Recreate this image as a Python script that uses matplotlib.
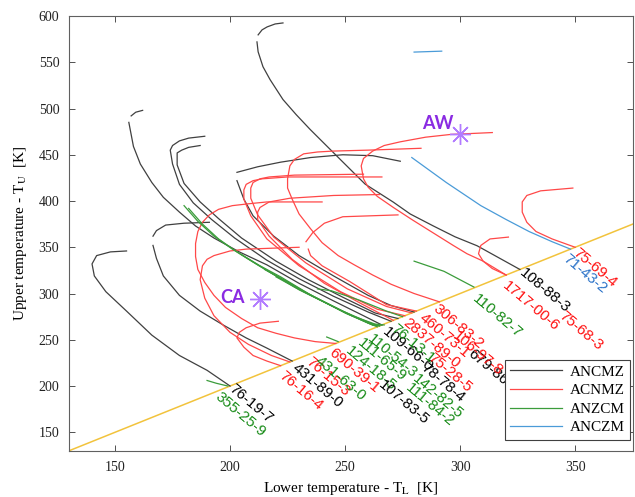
import numpy as np
import matplotlib
matplotlib.use('Agg')
import matplotlib.pyplot as plt

nan = np.nan

# ---------------------------------------------------------------------
# Curves: lower temperature T_L and upper T_U [K]
# (nan = gap in the line)
# ---------------------------------------------------------------------
# ANCMZ (black)
tl_76_19_7 = [200, 190, 178, 166, 155, 146, 141, 140, 142, 148, 155]
tu_76_19_7 = [200, 217, 233, 255, 281, 302, 319, 332, 341, 345, 346]
tl_431_89_0 = [227, 216, 207, 197, 187, 178, 171, 168, 166.5, nan, 166.5, 168, 172, 180, 191]
tu_431_89_0 = [227, 241, 252, 266, 281, 298, 319, 338, 352, nan, 362, 368, 374, 376, 377]
tl_108_88_3 = [326, 307.4, 297.8, 288.3, 278.3, 270.9, 258.7, 247.8, 241.3, 234.8, 228.7,
               223, 217.4, 214.3, 212.2, 211.7, nan, 212.2, 213.9, 216.1, 219.6, 223]
tu_108_88_3 = [326, 351.6, 361.3, 373.1, 386, 398.9, 418.3, 445.2, 461.3, 477.4, 493.5,
               509.7, 531.2, 545.2, 561.3, 572, nan, 579.6, 585, 588.2, 591.4, 592.5]
tl_109_66_0 = [266, 258, 245, 230, 216, 204, 193, 185, 178, 171, 166, 161, 158, 156, nan, 157, 159, 162]
tu_109_66_0 = [266, 276, 292, 311, 331, 345, 360, 373, 388, 404, 420, 440, 459, 485, nan, 492, 496, 498]
tl_107_83_5 = [270, 260, 245, 230, 216, 202, 192, 184, 178, 175, 174, 175, 178, 182, 189]
tu_107_83_5 = [270, 280, 297, 316, 336, 360, 380, 398, 418, 440, 455, 460, 465, 468, 470]
tl_78_78_4 = [273, 263, 249, 234, 220, 205, 195, 187, 180, 177, 177, 179, 182, 187]
tu_78_78_4 = [273, 279, 296, 315, 335, 360, 381, 399, 419, 439, 452, 455, 458, 460]
tl_679_86_7 = [280, 270, 260, 245, 230, 219, 210, 206, 203, nan, 203, 212, 222, 235, 249, 262, 274]
tu_679_86_7 = [280, 287, 298, 319, 341, 362, 384, 402, 422, nan, 431, 437, 442, 447, 450, 449, 443]

# ACNMZ (red)
tl_76_16_4 = [222, 216, 210, 206, 203, 204, 207, 213, 221]
tu_76_16_4 = [222, 227, 233, 242, 252, 258, 263, 268, 270]
tl_76_15_3 = [226, 218, 208, 200, 193, 189, 187, 188, 190, 193, 200, 207, 230]
tu_76_15_3 = [226, 233, 245, 258, 276, 295, 315, 330, 337, 341, 346, 348, 350]
tl_690_39_1 = [246, 237, 228, 220, 212, 205, 198, 193, 189, 186, 185, 185, 186, 188, 191,
               195, 201, 208, 216, 228, 240]
tu_690_39_1 = [246, 248, 252, 257, 263, 273, 285, 298, 312, 326, 340, 354, 367, 377, 385,
               391, 395, 397, 399, 399, 399]
tl_2837_89_0 = [276, 264, 248, 230, 216, 209, 206, 206, 207, 210, 214, 225, 266]
tu_2837_89_0 = [276, 283, 302, 330, 359, 384, 402, 412, 418, 422, 424, 426, 426]
tl_106_97_8 = [279, 268, 251, 233, 219, 212, 209, 209, 210, 213, 217, 228, 258]
tu_106_97_8 = [279, 286, 305, 333, 361, 385, 403, 414, 420, 424, 426, 428, 429]
tl_75_28_5 = [271, 257, 241, 227, 217, 212, 212, 213, 217, 226, 245, 265]
tu_75_28_5 = [271, 289, 311, 337, 362, 380, 388, 393, 399, 403, 406, 407]
tl_460_73_1 = [281, 268, 252, 240, 235, 234, nan, 233, 236, 241, 249, 273]
tu_460_73_1 = [281, 288, 313, 330, 341, 348, nan, 356, 366, 376, 383, 385]
tl_306_83_2 = [291, 280, 270, 262, 254, 247, 240, 235, 230, 227, 225, 225, 226, 228, 232,
               238, 245, 260, 283]
tu_306_83_2 = [291, 300, 310, 320, 331, 341, 355, 370, 386, 402, 414, 424, 438, 445, 451,
               453, 454, 455, 457]
tl_1717_00_6 = [320, 310, 303, 297, 288, 279, 271, 264, 260, 258, 257, 258, 262, 267, 274,
                285, 296, 314]
tu_1717_00_6 = [320, 335, 343, 352, 366, 380, 393, 405, 415, 424, 438, 446, 454, 460, 464,
                469, 472, 474]
tl_75_68_3 = [320, 314, 310, 308, 309, 313, 321]
tu_75_68_3 = [320, 327, 335, 343, 352, 359, 361]
tl_75_69_4 = [350, 340, 333, 329, 327, 327, 329, 335, 349]
tu_75_69_4 = [350, 359, 367, 377, 388, 399, 406, 411, 414]

# ANZCM (green)
tl_355_25_9 = [190, 194, 199]
tu_355_25_9 = [206, 203, 200]
tl_431_63_0 = [242, 247]
tu_431_63_0 = [253, 248]
tl_110_82_7 = [280, 293, 306]
tu_110_82_7 = [335, 324, 307]
tl_111_84_2 = [180, 186, 193, 201, 210, 218, 230, 248, 260, 264]
tu_111_84_2 = [395, 378, 362, 348, 334, 322, 304, 282, 268, 264]
tl_112_40_3 = [182, 188, 195, 203, 212, 220, 232, 249, 261, 265]
tu_112_40_3 = [392, 375, 359, 345, 331, 319, 302, 281, 268, 265]
tl_124_18_5 = [205, 213, 222, 234, 250, 262, 265]
tu_124_18_5 = [342, 330, 318, 300, 279, 266, 265]
tl_111_65_9 = [215, 224, 236, 251, 262, 266]
tu_111_65_9 = [326, 314, 297, 278, 266, 266]
tl_110_54_3 = [220, 228, 240, 253, 263, 267]
tu_110_54_3 = [318, 307, 292, 276, 267, 266]
tl_76_13_1 = [238, 244, 256, 268, 275]
tu_76_13_1 = [305, 303, 293, 281, 275]

# ANCZM (blue)
tl_71_43_2 = [348, 340, 330, 320, 309, 294, 279]
tu_71_43_2 = [348, 356, 367, 380, 395, 420, 447]
tl_71_43_2b = [280, 292]
tu_71_43_2b = [561, 562]

black_curves = [(tl_76_19_7, tu_76_19_7), (tl_431_89_0, tu_431_89_0),
                (tl_108_88_3, tu_108_88_3), (tl_109_66_0, tu_109_66_0),
                (tl_107_83_5, tu_107_83_5), (tl_78_78_4, tu_78_78_4),
                (tl_679_86_7, tu_679_86_7)]
red_curves = [(tl_76_16_4, tu_76_16_4), (tl_76_15_3, tu_76_15_3),
              (tl_690_39_1, tu_690_39_1), (tl_2837_89_0, tu_2837_89_0),
              (tl_106_97_8, tu_106_97_8), (tl_75_28_5, tu_75_28_5),
              (tl_460_73_1, tu_460_73_1), (tl_306_83_2, tu_306_83_2),
              (tl_1717_00_6, tu_1717_00_6), (tl_75_68_3, tu_75_68_3),
              (tl_75_69_4, tu_75_69_4)]
green_curves = [(tl_355_25_9, tu_355_25_9), (tl_431_63_0, tu_431_63_0),
                (tl_110_82_7, tu_110_82_7), (tl_111_84_2, tu_111_84_2),
                (tl_112_40_3, tu_112_40_3), (tl_124_18_5, tu_124_18_5),
                (tl_111_65_9, tu_111_65_9), (tl_110_54_3, tu_110_54_3),
                (tl_76_13_1, tu_76_13_1)]
blue_curves = [(tl_71_43_2, tu_71_43_2), (tl_71_43_2b, tu_71_43_2b)]

# CAS number labels: text, lower temp, upper temp, group
label_text = ['76-19-7', '355-25-9', '76-16-4', '431-89-0', '76-15-3', '431-63-0',
              '690-39-1', '124-18-5', '111-65-9', '110-54-3', '109-66-0', '76-13-1',
              '2837-89-0', '460-73-1', '306-83-2', '679-86-7', '106-97-8', '75-28-5',
              '78-78-4', '107-83-5', '142-82-5', '111-84-2', '108-88-3', '1717-00-6',
              '110-82-7', '75-68-3', '75-69-4', '71-43-2']
label_tl = [202.5, 196.5, 224, 230, 235.8, 240, 245.8, 253, 258, 262.7, 269, 272.7,
            278, 285, 291, 306, 299.7, 289, 285.8, 267.5, 282, 279, 328.4, 321.4,
            308.4, 345.8, 351.9, 347.5]
label_tu = [205, 196, 219.4, 228, 234.4, 235.5, 244, 246, 255, 259, 266.6, 270,
            276.6, 281.7, 291.4, 243, 262.4, 238.7, 228, 208.6, 216, 206, 330, 316,
            302, 284, 351.6, 345]
label_group = ['k', 'g', 'r', 'k', 'r', 'g', 'r', 'g', 'g', 'g', 'k', 'g',
               'r', 'r', 'r', 'k', 'r', 'r', 'k', 'k', 'g', 'g', 'k', 'r',
               'g', 'r', 'r', 'b']

# Reference points
point_names = ['CA', 'AW']
point_tl = [213, 300]
point_tu = [294.5, 472]

legend_names = ['ANCMZ', 'ACNMZ', 'ANZCM', 'ANCZM']

line_colors = {'k': '#404040', 'r': '#ff4848', 'g': '#3b9c3b', 'b': '#4a9bd8'}
text_colors = {'k': '#000000', 'r': '#ff1010', 'g': '#158a15', 'b': '#2a72c8'}

plt.rcParams['mathtext.fontset'] = 'stix'

fig = plt.figure(figsize=(6.35, 4.97), dpi=100)
ax = fig.add_axes([0.1087, 0.093, 0.8876, 0.8748])

# Curves
groups = [('k', black_curves), ('r', red_curves), ('g', green_curves), ('b', blue_curves)]
handles = []
for key, curves in groups:
    for i, (tl, tu) in enumerate(curves):
        ln, = ax.plot(tl, tu, color=line_colors[key], lw=0.9)
        if i == 0:
            handles.append(ln)

# T_U = T_L line
ax.axline((130, 130), slope=1, color='#f2c33c', lw=1.1, zorder=1)

# Labels along the diagonal
for txt, x, y, g in zip(label_text, label_tl, label_tu, label_group):
    ax.text(x, y, txt, color=text_colors[g], fontsize=11, family='Liberation Sans',
            rotation=-40, rotation_mode='anchor', ha='left', va='top', zorder=5)

# CA and AW markers
for x, y in zip(point_tl, point_tu):
    ax.plot(x, y, marker=(8, 2, 0), markersize=15, color='#b27cff', mew=1.0, zorder=6)
ax.annotate(point_names[0], (point_tl[0], point_tu[0]), xytext=(-11, 1),
            textcoords='offset points', ha='right', va='center',
            color='#8a2be2', fontsize=13, fontweight='bold', family='Lato', zorder=7)
ax.annotate(point_names[1], (point_tl[1], point_tu[1]), xytext=(-5, 2),
            textcoords='offset points', ha='right', va='bottom',
            color='#8a2be2', fontsize=13, fontweight='bold', family='Lato', zorder=7)

ax.set_xlim(130, 375)
ax.set_ylim(130, 600)
ax.set_xticks([150, 200, 250, 300, 350])
ax.set_yticks(np.arange(150, 601, 50))

ax.tick_params(direction='in', top=True, right=True, length=4, width=0.7,
               colors='#505050', labelcolor='#222222', labelsize=10, pad=7)
for lab in ax.get_xticklabels() + ax.get_yticklabels():
    lab.set_family('Liberation Serif')
for sp in ax.spines.values():
    sp.set_color('#606060')
    sp.set_linewidth(0.8)

ax.set_xlabel(r'Lower temperature - T$_\mathrm{L}$  [K]', family='Liberation Serif',
              fontsize=11, labelpad=5)
ax.set_ylabel(r'Upper temperature - T$_\mathrm{U}$  [K]', family='Liberation Serif',
              fontsize=11, labelpad=7)

leg = ax.legend(handles, legend_names, loc='lower right', bbox_to_anchor=(1.0, 0.02),
                prop={'family': 'Liberation Serif', 'size': 11}, fancybox=False,
                edgecolor='#404040', framealpha=1, handlelength=3.4,
                borderpad=0.35, labelspacing=0.32, handletextpad=0.5, borderaxespad=0.15)
leg.get_frame().set_linewidth(0.8)

fig.savefig('out.png', dpi=100)
